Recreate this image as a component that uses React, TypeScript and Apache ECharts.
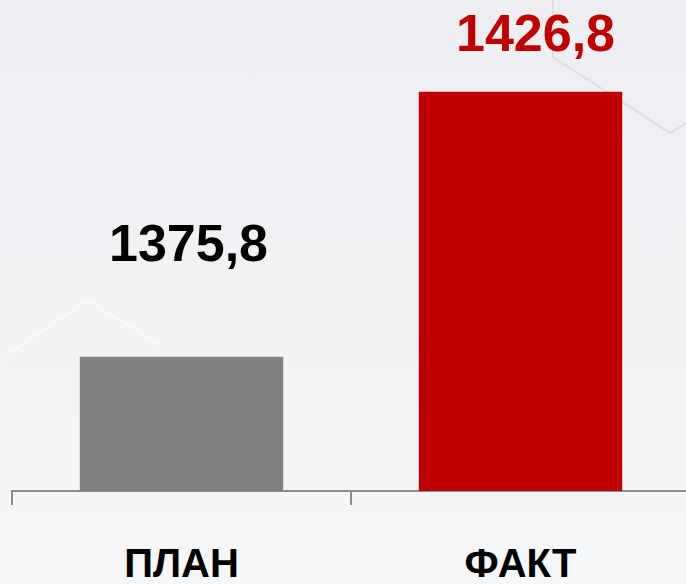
import React, { useEffect, useRef } from "react";
import * as echarts from "echarts";

const categories = ["ПЛАН", "ФАКТ"];
const values = [1375.8, 1426.8];
const barColors = ["#808080", "#c00000"];
const labelColors = ["#000000", "#c00000"];

export default function App() {
  const ref = useRef<HTMLDivElement>(null);
  useEffect(() => {
    document.body.style.margin = "0";
    document.body.style.overflow = "hidden";
    const chart = echarts.init(ref.current!, null, { renderer: "svg" });
    const font = "'Liberation Sans', Arial, sans-serif";
    const labelCfg = [
      { distance: 88, offset: [7, 0] },
      { distance: 33, offset: [15, 0] },
    ];
    chart.setOption({
      animation: false,
      backgroundColor: {
        type: "linear",
        x: 0, y: 0, x2: 0, y2: 1,
        colorStops: [
          { offset: 0, color: "#eceef1" },
          { offset: 1, color: "#f6f7f8" },
        ],
      },
      graphic: [
        {
          type: "polyline",
          silent: true,
          shape: { points: [[553, 0], [553, 57], [670, 133], [700, 115]] },
          style: { stroke: "rgba(160,165,175,0.2)", lineWidth: 2, fill: "none" },
        },
        {
          type: "polyline",
          silent: true,
          shape: { points: [[0, 360], [88, 300], [160, 345]] },
          style: { stroke: "rgba(255,255,255,0.35)", lineWidth: 3, fill: "none" },
        },
      ],
      grid: { left: 12, right: 0, top: 23, bottom: 93, containLabel: false },
      xAxis: {
        type: "category",
        data: categories,
        axisLine: { show: true, lineStyle: { color: "#8c8c8c", width: 2 } },
        axisTick: { show: true, length: 14, lineStyle: { color: "#8c8c8c", width: 2 } },
        axisLabel: {
          margin: 52,
          color: "#000",
          fontSize: 40,
          fontWeight: "bold",
          fontFamily: font,
        },
      },
      yAxis: {
        type: "value",
        min: 1350,
        max: 1440,
        show: false,
        splitLine: { show: false },
      },
      series: [
        {
          type: "bar",
          barCategoryGap: "40%",
          data: values.map((v, i) => ({
            value: v,
            itemStyle: { color: barColors[i] },
            label: {
              show: true,
              position: "top",
              distance: labelCfg[i].distance,
              offset: labelCfg[i].offset,
              color: labelColors[i],
              fontSize: 52,
              fontWeight: "bold",
              fontFamily: font,
              formatter: (p: any) => String(p.value).replace(".", ","),
            },
          })),
        },
      ],
    });
    return () => chart.dispose();
  }, []);
  return <div ref={ref} style={{ width: 690, height: 584 }} />;
}
